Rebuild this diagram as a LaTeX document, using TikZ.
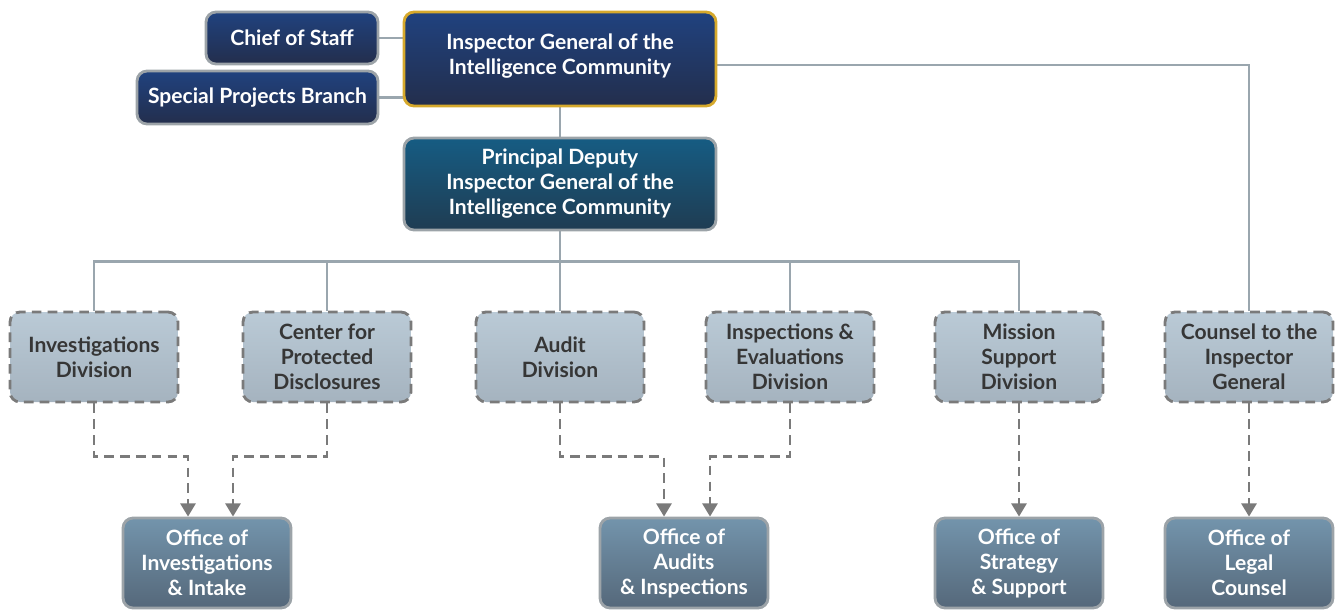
\documentclass[tikz,border=0pt]{standalone}
\usepackage{fontspec}
\setmainfont{Lato}
\usepackage{tikz}
\usetikzlibrary{positioning,arrows.meta}
\pgfdeclarelayer{background}
\pgfsetlayers{background,main}

\definecolor{navytop}{HTML}{20427F}
\definecolor{navybot}{HTML}{232E4C}
\definecolor{tealtop}{HTML}{165C83}
\definecolor{tealbot}{HTML}{1F3C52}
\definecolor{divtop}{HTML}{BACAD6}
\definecolor{divbot}{HTML}{A5B3BF}
\definecolor{offtop}{HTML}{7394AC}
\definecolor{offbot}{HTML}{55687A}
\definecolor{rimgray}{HTML}{9CA3A8}
\definecolor{dashgray}{HTML}{7A7A7A}
\definecolor{linegray}{HTML}{9AA6AE}
\definecolor{gold}{HTML}{D6A92C}
\definecolor{darktext}{HTML}{363636}

\begin{document}
\begin{tikzpicture}[x=0.02cm,y=-0.02cm,
			box/.style={rectangle, rounded corners=0.2cm, line width=1.6pt, align=center,
				font=\bfseries\fontsize{12}{14.2}\selectfont, inner sep=0pt},
			topbox/.style={box, draw=rimgray, top color=navytop, bottom color=navybot, text=white},
			deputybox/.style={box, draw=rimgray, top color=tealtop, bottom color=tealbot, text=white},
			divbox/.style={box, draw=dashgray, dashed, dash pattern=on 5.5pt off 3.5pt, top color=divtop, bottom color=divbot,
				text=darktext, minimum width=3.36cm, minimum height=1.8cm},
			officebox/.style={box, draw=rimgray, top color=offtop, bottom color=offbot, text=white,
				minimum width=3.36cm, minimum height=1.8cm},
			solidline/.style={linegray, line width=1.6pt},
			dasharrow/.style={dashgray, line width=1.6pt, dash pattern=on 5.5pt off 3.5pt,
				-{Triangle[width=8.5pt,length=7.5pt]}},
			]
			\useasboundingbox (0,0) rectangle (1335,610);
			%Nodes
			\node[topbox, draw=gold, minimum width=6.24cm, minimum height=1.88cm] (ig) at (560,59) {};
			\node[font=\bfseries\fontsize{12}{14.2}\selectfont, text=white, align=center] (igtext) at (560,56) {Inspector General of the\\Intelligence Community};
			\node[topbox, minimum width=3.44cm, minimum height=1.04cm] (cos) at (292,38) {Chief of Staff};
			\node[topbox, minimum width=4.82cm, minimum height=1.06cm] (spb) at (257.5,97.5) {Special Projects Branch};
			\node[deputybox, minimum width=6.24cm, minimum height=1.84cm] (pdig) at (560,184) {Principal Deputy\\Inspector General of the\\Intelligence Community};
			
			\node[divbox] (inv) at (94,357) {Investigations\\Division};
			\node[divbox] (cpd) at (327,357) {Center for\\Protected\\Disclosures};
			\node[divbox] (aud) at (560,357) {Audit\\Division};
			\node[divbox] (ied) at (790,357) {Inspections \&\\Evaluations\\Division};
			\node[divbox] (msd) at (1019,357) {Mission\\Support\\Division};
			\node[divbox] (cig) at (1249,357) {Counsel to the\\Inspector\\General};
			
			\node[officebox] (oii) at (207,563) {Office of\\Investigations\\\& Intake};
			\node[officebox] (oai) at (684,563) {Office of\\Audits\\\& Inspections};
			\node[officebox] (oss) at (1019,563) {Office of\\Strategy\\\& Support};
			\node[officebox] (olc) at (1249,563) {Office of\\Legal\\Counsel};
			
			\begin{pgfonlayer}{background}
			%Lines
			\draw[solidline] (cos.east) -- (cos.east -| ig.west);
			\draw[solidline] (spb.east) -- (spb.east -| ig.west);
			\draw[solidline] (ig.south) -- (pdig.north);
			\draw[solidline] ([yshift=-0.12cm]ig.east) -| (cig.north);
			\draw[solidline] (pdig.south) -- ++(0,30) coordinate (bus);
			\draw[solidline] (inv.north) |- (bus) -| (msd.north);
			\draw[solidline] (cpd.north) -- (cpd.north |- bus);
			\draw[solidline] (aud.north) -- (bus);
			\draw[solidline] (ied.north) -- (ied.north |- bus);
			
			\draw[dasharrow] (inv.south) -- ++(0,53) -| ([xshift=-0.38cm]oii.north);
			\draw[dasharrow] (cpd.south) -- ++(0,53) -| ([xshift=0.52cm]oii.north);
			\draw[dasharrow] (aud.south) -- ++(0,53) -| ([xshift=-0.4cm]oai.north);
			\draw[dasharrow] (ied.south) -- ++(0,53) -| ([xshift=0.52cm]oai.north);
			\draw[dasharrow] (msd.south) -- (oss.north);
			\draw[dasharrow] (cig.south) -- (olc.north);
			\end{pgfonlayer}
		\end{tikzpicture}
\end{document}
